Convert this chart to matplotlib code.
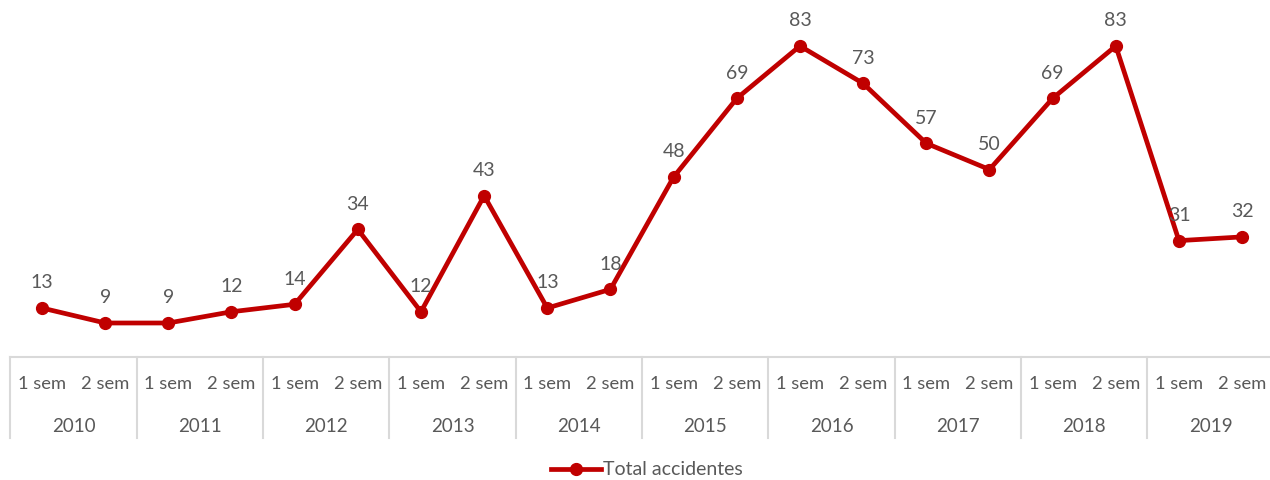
import matplotlib.pyplot as plt
import matplotlib.transforms as mtransforms

plt.rcParams['font.family'] = ['Lato', 'DejaVu Sans']

years = ['2010', '2011', '2012', '2013', '2014', '2015', '2016', '2017', '2018', '2019']
sems = ['1 sem', '2 sem']
accidentes = [13, 9, 9, 12, 14, 34, 12, 43, 13, 18, 48, 69, 83, 73, 57, 50, 69, 83, 31, 32]

rojo = '#C00000'
gris_txt = '#595959'
gris_lin = '#D9D9D9'

fig = plt.figure(figsize=(12.7, 4.8), dpi=100)
ax = fig.add_axes([0.0082, 0.2569, 0.9947, 0.7019])

x = list(range(len(accidentes)))
ax.plot(x, accidentes, color=rojo, lw=3.4, marker='o', ms=8.5, label='Total accidentes',
        clip_on=False, zorder=3)

for xi, v in zip(x, accidentes):
    ax.annotate(str(v), (xi, v), xytext=(0, 12), textcoords='offset points',
                ha='center', va='bottom', fontsize=14, color=gris_txt)

ax.set_xlim(-0.5, len(accidentes) - 0.5)
ax.set_ylim(0, 90)
ax.set_xticks([])
ax.set_yticks([])
for s in ['top', 'right', 'left']:
    ax.spines[s].set_visible(False)
ax.spines['bottom'].set_color(gris_lin)
ax.spines['bottom'].set_linewidth(1.5)

# tabla de categorias debajo del eje
trans = mtransforms.blended_transform_factory(ax.transData, ax.transAxes)
for k in range(len(years)):
    xb = 2 * k - 0.5
    ax.plot([xb, xb], [0, -0.242], color=gris_lin, lw=1.5, transform=trans, clip_on=False)
for i in x:
    ax.text(i, -0.082, sems[i % 2], transform=trans, ha='center', va='center',
            fontsize=13.2, color=gris_txt)
for k, y in enumerate(years):
    ax.text(2 * k + 0.5, -0.207, y, transform=trans, ha='center', va='center',
            fontsize=13.5, color=gris_txt)

leg = fig.legend(loc='center', bbox_to_anchor=(0.5095, 0.021), frameon=False, fontsize=14,
                 handlelength=2.6, handletextpad=0.1)
for t in leg.get_texts():
    t.set_color(gris_txt)

fig.savefig('out.png', dpi=100)
